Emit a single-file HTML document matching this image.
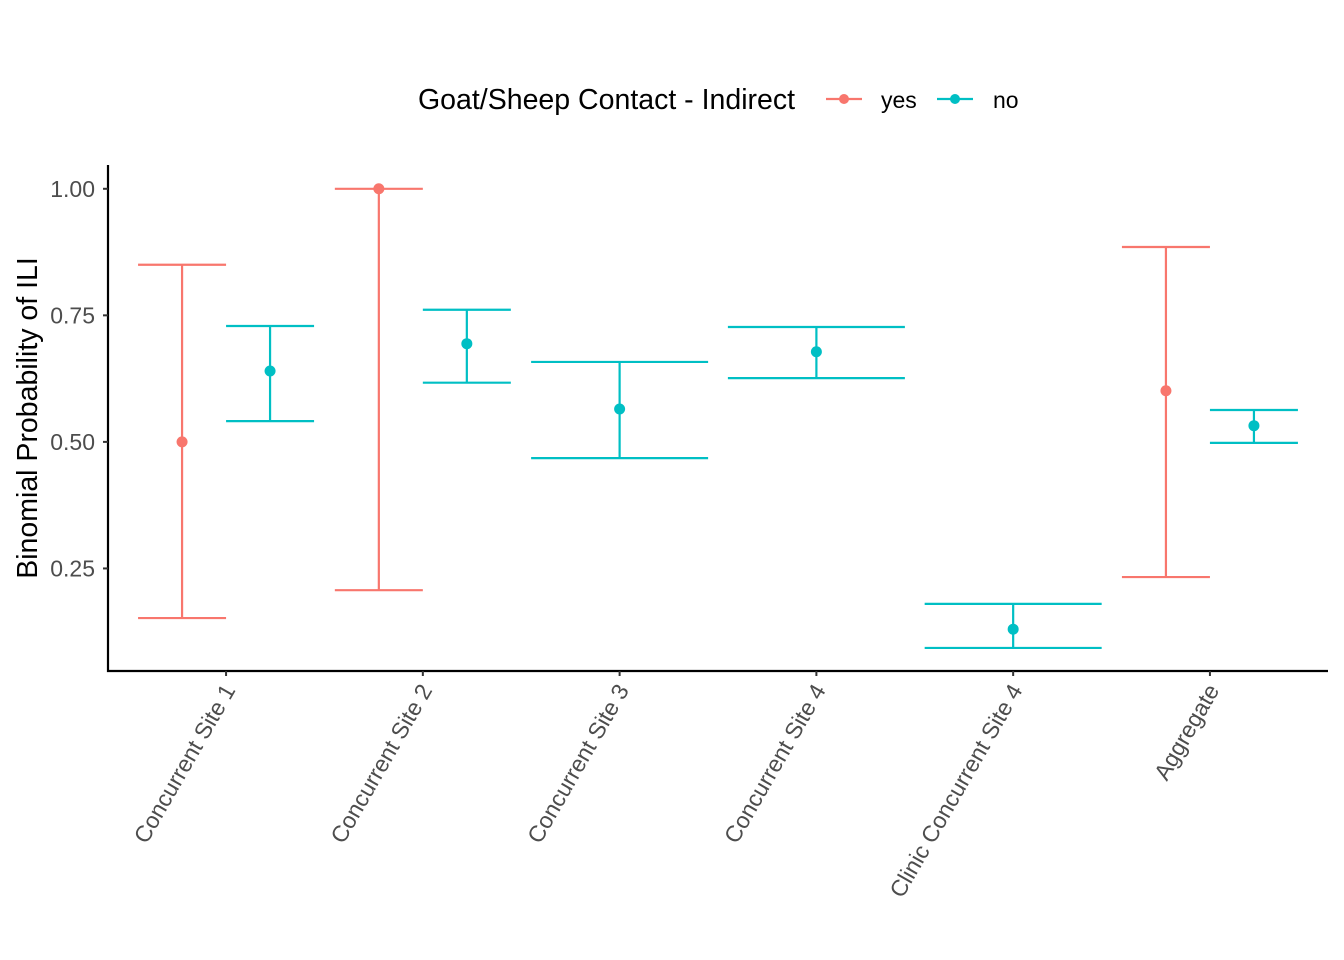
<!DOCTYPE html>
<html><head><meta charset="utf-8"><style>body{margin:0;background:#fff}svg{display:block;font-family:"Liberation Sans",Arial,sans-serif}</style></head>
<body>
<svg id="chart" width="1344" height="960" viewBox="0 0 1344 960" xmlns="http://www.w3.org/2000/svg">
<g>
<text x="418" y="109" font-size="28.5" fill="#000">Goat/Sheep Contact - Indirect</text>
<g><line x1="826" y1="99" x2="862" y2="99" stroke="#F8766D" stroke-width="2.2"/><circle cx="844" cy="99" r="5" fill="#F8766D"/><text x="881" y="108" font-size="23" fill="#000">yes</text></g>
<g><line x1="937" y1="99" x2="973" y2="99" stroke="#00BFC4" stroke-width="2.2"/><circle cx="955" cy="99" r="5" fill="#00BFC4"/><text x="993" y="108" font-size="23" fill="#000">no</text></g>
</g>
<g id="plot"></g>
<text transform="translate(37,418) rotate(-90)" text-anchor="middle" font-size="28.5" fill="#000">Binomial Probability of ILI</text>
</svg>
<script>
const categories=["Concurrent Site 1","Concurrent Site 2","Concurrent Site 3","Concurrent Site 4","Clinic Concurrent Site 4","Aggregate"];
const yesMid=[0.50,1.00,null,null,null,0.601];
const yesLo=[0.152,0.207,null,null,null,0.233];
const yesHi=[0.85,1.00,null,null,null,0.885];
const noMid=[0.640,0.694,0.565,0.678,0.130,0.532];
const noLo=[0.541,0.617,0.468,0.626,0.093,0.498];
const noHi=[0.729,0.761,0.658,0.727,0.180,0.563];
const yTicks=[0.25,0.50,0.75,1.00];
const yTickLabels=["0.25","0.50","0.75","1.00"];
const NS="http://www.w3.org/2000/svg";
const g=document.getElementById('plot');
const L=108,R=1328,T=165,B=671,ymin=0.0474,ymax=1.047;
const y=v=>B-(v-ymin)/(ymax-ymin)*(B-T);
const step=(R-L)/(categories.length-1+1.2);
const x=i=>L+step*(i+0.6);
function el(tag,attrs,parent){const e=document.createElementNS(NS,tag);for(const k in attrs)e.setAttribute(k,attrs[k]);(parent||g).appendChild(e);return e;}
const ax=el('path',{d:`M${L},${T} V${B} H${R}`,fill:'none',stroke:'#000','stroke-width':2.2});


yTicks.forEach((v,k)=>{
  const t=el('line',{x1:L-5,x2:L,y1:y(v),y2:y(v),stroke:'#333','stroke-width':2});
  
  
  const tx=el('text',{x:L-13,y:y(v)+8,'text-anchor':'end','font-size':23,fill:'#4d4d4d'});
  tx.textContent=yTickLabels[k];
  
  
});
categories.forEach((c,i)=>{
  const cx=x(i);
  const t=el('line',{x1:cx,x2:cx,y1:B,y2:B+5,stroke:'#333','stroke-width':2});
  
  
  const tx=el('text',{transform:`translate(${cx+10},${B+19}) rotate(-60)`,'text-anchor':'end','font-size':23,fill:'#4d4d4d'});
  tx.textContent=c;
  
  
  const both=yesMid[i]!==null&&noMid[i]!==null;
  const series=[];
  if(yesMid[i]!==null)series.push({m:yesMid[i],lo:yesLo[i],hi:yesHi[i],col:'#F8766D',n:'yes'});
  if(noMid[i]!==null)series.push({m:noMid[i],lo:noLo[i],hi:noHi[i],col:'#00BFC4',n:'no'});
  series.forEach((s,j)=>{
    const px=both?cx+(j===0?-44:44):cx;
    const hw=both?44:88.5;
    const gg=el('g',{});
    
    
    el('line',{x1:px,x2:px,y1:y(s.lo),y2:y(s.hi),stroke:s.col,'stroke-width':2.2},gg);
    el('line',{x1:px-hw,x2:px+hw,y1:y(s.lo),y2:y(s.lo),stroke:s.col,'stroke-width':2.2},gg);
    el('line',{x1:px-hw,x2:px+hw,y1:y(s.hi),y2:y(s.hi),stroke:s.col,'stroke-width':2.2},gg);
    el('circle',{cx:px,cy:y(s.m),r:5.5,fill:s.col},gg);
  });
});
</script>
</body></html>
